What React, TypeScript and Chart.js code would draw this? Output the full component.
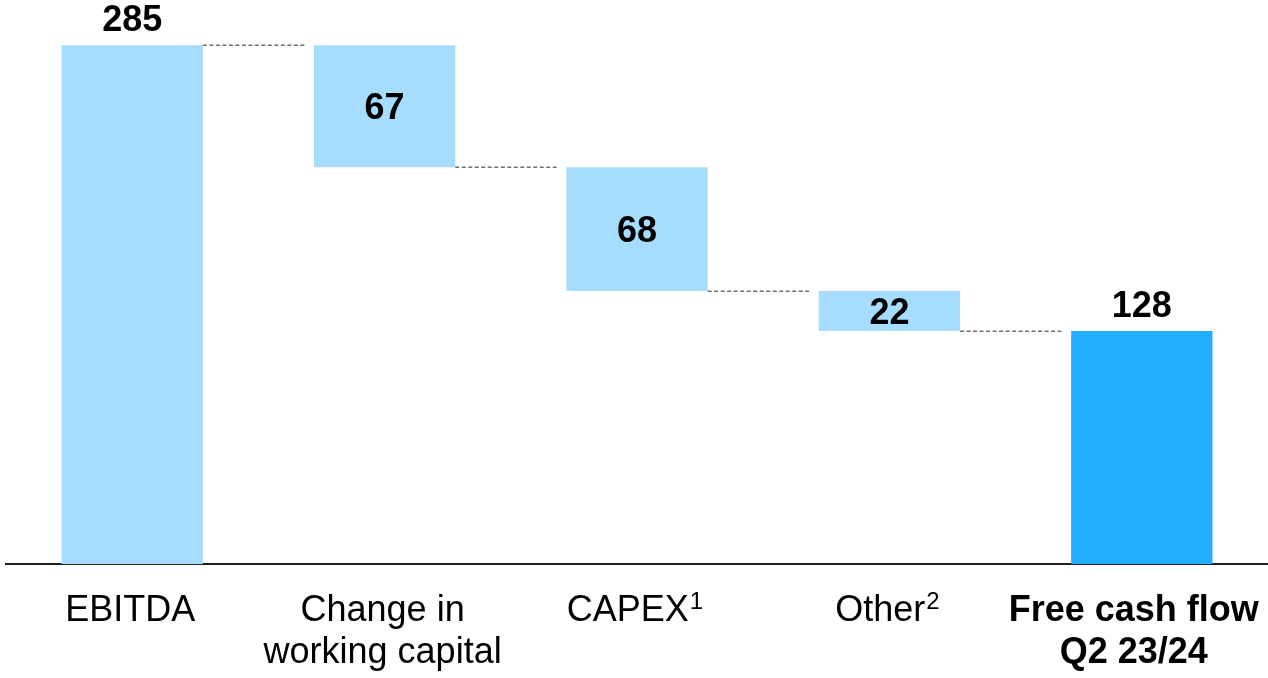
import React, { useEffect, useRef } from "react";
import { Chart, registerables } from "chart.js";

Chart.register(...registerables);

const categories: string[][] = [
  ["EBITDA"],
  ["Change in", "working capital"],
  ["CAPEX"],
  ["Other"],
  ["Free cash flow", "Q2 23/24"],
];
const superscripts: string[] = ["", "", "1", "2", ""];
const values: number[] = [285, -67, -68, -22, 128];
const kinds: string[] = ["start", "delta", "delta", "delta", "total"];
const valueLabels: string[] = ["285", "67", "68", "22", "128"];

const LIGHT = "#A6DDFF";
const DARK = "#22ADFF";
const FONT = "'Liberation Sans', Arial, sans-serif";

export default function App() {
  const ref = useRef<HTMLCanvasElement | null>(null);

  useEffect(() => {
    document.body.style.margin = "0";
    const canvas = ref.current;
    if (!canvas) return;

    const floats: number[][] = [];
    const levels: number[] = [];
    let running = 0;
    values.forEach((v, i) => {
      if (kinds[i] === "delta") {
        floats.push([running + v, running]);
        running += v;
      } else {
        floats.push([0, v]);
        running = v;
      }
      levels.push(running);
    });

    const overlay = {
      id: "overlay",
      afterDatasetsDraw(chart: any) {
        const ctx = chart.ctx as CanvasRenderingContext2D;
        const meta = chart.getDatasetMeta(0);
        const xScale = chart.scales.x;
        const yScale = chart.scales.y;
        ctx.save();
        // connectors
        ctx.strokeStyle = "#707070";
        ctx.lineWidth = 1.5;
        ctx.setLineDash([4, 2.5]);
        for (let i = 0; i < values.length - 1; i++) {
          const a = meta.data[i] as any;
          const b = meta.data[i + 1] as any;
          const y = Math.round(yScale.getPixelForValue(levels[i])) + 0.25;
          ctx.beginPath();
          ctx.moveTo(a.x + a.width / 2, y);
          ctx.lineTo(b.x - b.width / 2 - 8, y);
          ctx.stroke();
        }
        ctx.setLineDash([]);
        // value labels
        ctx.fillStyle = "#000";
        ctx.textAlign = "center";
        ctx.textBaseline = "alphabetic";
        ctx.font = `bold 36px ${FONT}`;
        for (let i = 0; i < values.length; i++) {
          const el = meta.data[i] as any;
          const top = yScale.getPixelForValue(floats[i][1]);
          const bot = yScale.getPixelForValue(floats[i][0]);
          if (kinds[i] === "delta") {
            ctx.fillText(valueLabels[i], el.x, (top + bot) / 2 + 13);
          } else {
            ctx.fillText(valueLabels[i], el.x, top - 14);
          }
        }
        // category labels
        ctx.textAlign = "left";
        for (let i = 0; i < categories.length; i++) {
          const cx = xScale.getPixelForValue(i) - 2;
          const bold = kinds[i] === "total";
          const lines = categories[i];
          lines.forEach((line, j) => {
            const baseY = xScale.top + 57 + j * 42;
            ctx.font = `${bold ? "bold " : ""}36px ${FONT}`;
            const w = ctx.measureText(line).width;
            const sup = j === lines.length - 1 ? superscripts[i] : "";
            let sw = 0;
            if (sup) {
              ctx.font = `24px ${FONT}`;
              sw = ctx.measureText(sup).width + 1;
            }
            let x0 = cx - (w + sw) / 2;
            if (bold) x0 -= 6;
            ctx.font = `${bold ? "bold " : ""}36px ${FONT}`;
            ctx.fillText(line, x0, baseY);
            if (sup) {
              ctx.font = `24px ${FONT}`;
              ctx.fillText(sup, x0 + w + 1, baseY - 12);
            }
          });
        }
        ctx.restore();
      },
    };

    const chart = new Chart(canvas, {
      type: "bar",
      data: {
        labels: categories.map((c) => c.join(" ")),
        datasets: [
          {
            data: floats as any,
            backgroundColor: kinds.map((k) => (k === "total" ? DARK : LIGHT)),
            borderWidth: 0,
            categoryPercentage: 1,
            barPercentage: 0.56,
          },
        ],
      },
      options: {
        animation: false,
        responsive: true,
        maintainAspectRatio: false,
        layout: { padding: { top: 18, left: 6, right: 0, bottom: 0 } },
        plugins: {
          legend: { display: false },
          tooltip: { enabled: false },
        },
        scales: {
          x: {
            offset: true,
            grid: { display: false, drawTicks: false },
            border: { display: true, color: "#1f1f1f", width: 2 },
            ticks: { display: false },
            afterFit: (scale: any) => {
              scale.height = 114;
            },
          },
          y: {
            display: false,
            min: 0,
            max: 300,
          },
        },
      },
      plugins: [overlay],
    });

    return () => chart.destroy();
  }, []);

  return (
    <div style={{ position: "relative", width: 1268, height: 678 }}>
      <canvas ref={ref} />
    </div>
  );
}
